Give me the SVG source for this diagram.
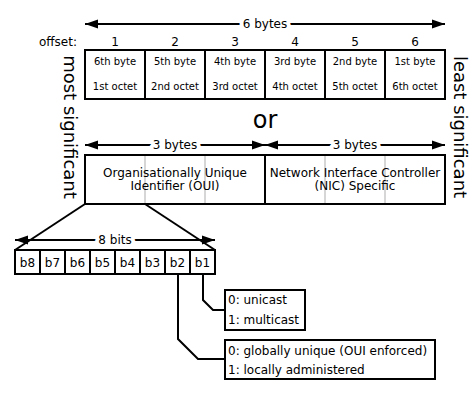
<svg xmlns="http://www.w3.org/2000/svg" width="475" height="400" viewBox="0 0 475 400">
  <style>
    text { font-family: "DejaVu Sans", Verdana, sans-serif; fill: #000; }
    .box { fill: #fff; stroke: #000; stroke-width: 2; }
    .div { stroke: #000; stroke-width: 2; }
    .grid { stroke: #c8c8c8; stroke-width: 1.5; }
    .wire { fill: none; stroke: #000; stroke-width: 2; }
    .dim { stroke: #000; stroke-width: 2; marker-start: url(#tipL); marker-end: url(#tipR); }
    .lbl { font-size: 12px; text-anchor: middle; stroke: #fff; stroke-width: 8px; paint-order: stroke; stroke-linejoin: round; }
    .num { font-size: 12px; text-anchor: middle; }
    .end { font-size: 12px; text-anchor: end; }
    .cell { font-size: 10px; text-anchor: middle; }
    .side { font-size: 18px; text-anchor: middle; }
    .note { font-size: 12px; }
  </style>
  <defs>
    <marker id="tipR" markerUnits="userSpaceOnUse" markerWidth="14" markerHeight="10" refX="13" refY="5" orient="auto">
      <path d="M0,0.5 L13,5 L0,9.5 Z" fill="#000"/>
    </marker>
    <marker id="tipL" markerUnits="userSpaceOnUse" markerWidth="14" markerHeight="10" refX="0" refY="5" orient="auto">
      <path d="M13,0.5 L0,5 L13,9.5 Z" fill="#000"/>
    </marker>
  </defs>

  <rect width="475" height="400" fill="#fff"/>

  <!-- side captions -->
  <text class="side" transform="translate(64,127) rotate(90)">most significant</text>
  <text class="side" transform="translate(454,127) rotate(90)">least significant</text>

  <!-- six-byte address -->
  <g id="six-bytes">
    <line class="dim" x1="85" y1="24" x2="445" y2="24"/>
    <text class="lbl" x="265" y="28">6 bytes</text>
    <text class="end" x="77" y="46">offset:</text>
    <text class="num" x="115" y="46">1</text>
    <text class="num" x="175" y="46">2</text>
    <text class="num" x="235" y="46">3</text>
    <text class="num" x="295" y="46">4</text>
    <text class="num" x="355" y="46">5</text>
    <text class="num" x="415" y="46">6</text>
    <rect class="box" x="85" y="50" width="360" height="49"/>
    <line class="div" x1="145" y1="50" x2="145" y2="99"/>
    <line class="div" x1="205" y1="50" x2="205" y2="99"/>
    <line class="div" x1="265" y1="50" x2="265" y2="99"/>
    <line class="div" x1="325" y1="50" x2="325" y2="99"/>
    <line class="div" x1="385" y1="50" x2="385" y2="99"/>
    <text class="cell" x="115" y="65">6th byte</text>
    <text class="cell" x="115" y="90">1st octet</text>
    <text class="cell" x="175" y="65">5th byte</text>
    <text class="cell" x="175" y="90">2nd octet</text>
    <text class="cell" x="235" y="65">4th byte</text>
    <text class="cell" x="235" y="90">3rd octet</text>
    <text class="cell" x="295" y="65">3rd byte</text>
    <text class="cell" x="295" y="90">4th octet</text>
    <text class="cell" x="355" y="65">2nd byte</text>
    <text class="cell" x="355" y="90">5th octet</text>
    <text class="cell" x="415" y="65">1st byte</text>
    <text class="cell" x="415" y="90">6th octet</text>
  </g>

  <text x="265" y="128" font-size="24" text-anchor="middle">or</text>

  <!-- OUI / NIC split -->
  <g id="oui-nic">
    <line class="dim" x1="85" y1="145" x2="265" y2="145"/>
    <line class="dim" x1="265" y1="145" x2="445" y2="145"/>
    <text class="lbl" x="175" y="149">3 bytes</text>
    <text class="lbl" x="355" y="149">3 bytes</text>
    <rect class="box" x="85" y="155" width="360" height="49"/>
    <line class="grid" x1="145" y1="156" x2="145" y2="203"/>
    <line class="grid" x1="205" y1="156" x2="205" y2="203"/>
    <line class="grid" x1="325" y1="156" x2="325" y2="203"/>
    <line class="grid" x1="385" y1="156" x2="385" y2="203"/>
    <line class="div" x1="265" y1="155" x2="265" y2="204"/>
    <text class="num" x="175" y="177">Organisationally Unique</text>
    <text class="num" x="175" y="190">Identifier (OUI)</text>
    <text class="num" x="355" y="177">Network Interface Controller</text>
    <text class="num" x="355" y="190">(NIC) Specific</text>
  </g>

  <!-- first octet bits -->
  <g id="bits">
    <line class="dim" x1="15" y1="240" x2="215" y2="240"/>
    <text class="lbl" x="115" y="244">8 bits</text>
    <rect class="box" x="15" y="250" width="200" height="24"/>
    <line class="div" x1="40" y1="250" x2="40" y2="274"/>
    <line class="div" x1="65" y1="250" x2="65" y2="274"/>
    <line class="div" x1="90" y1="250" x2="90" y2="274"/>
    <line class="div" x1="115" y1="250" x2="115" y2="274"/>
    <line class="div" x1="140" y1="250" x2="140" y2="274"/>
    <line class="div" x1="165" y1="250" x2="165" y2="274"/>
    <line class="div" x1="190" y1="250" x2="190" y2="274"/>
    <text class="num" x="27.5" y="267">b8</text>
    <text class="num" x="52.5" y="267">b7</text>
    <text class="num" x="77.5" y="267">b6</text>
    <text class="num" x="102.5" y="267">b5</text>
    <text class="num" x="127.5" y="267">b4</text>
    <text class="num" x="152.5" y="267">b3</text>
    <text class="num" x="177.5" y="267">b2</text>
    <text class="num" x="202.5" y="267">b1</text>
  </g>

  <g id="b1-meaning">
    <rect class="box" x="225" y="290" width="80" height="40"/>
    <text class="note" x="228" y="304">0: unicast</text>
    <text class="note" x="228" y="324">1: multicast</text>
  </g>

  <g id="b2-meaning">
    <rect class="box" x="225" y="340" width="210" height="39"/>
    <text class="note" x="228" y="355">0: globally unique (OUI enforced)</text>
    <text class="note" x="228" y="374">1: locally administered</text>
  </g>

  <!-- connectors -->
  <g id="connectors">
    <line class="wire" x1="85" y1="204" x2="15" y2="250"/>
    <line class="wire" x1="145" y1="204" x2="215" y2="250"/>
    <polyline class="wire" points="203,274 203,300 213,310 225,310"/>
    <polyline class="wire" points="178,274 178,339 198,359 225,359"/>
  </g>
</svg>
